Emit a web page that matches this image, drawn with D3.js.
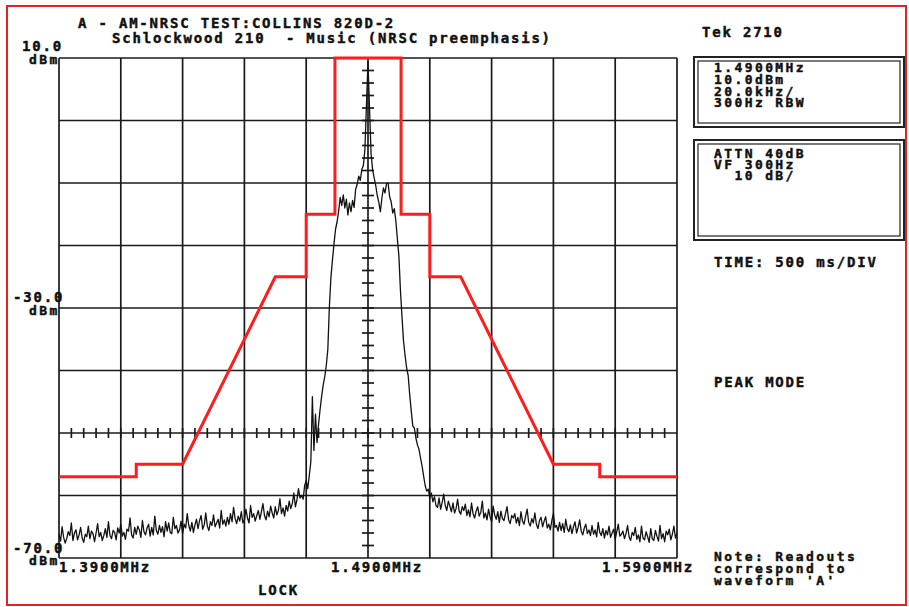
<!DOCTYPE html>
<html>
<head>
<meta charset="utf-8">
<script src="https://cdn.jsdelivr.net/npm/d3@7"></script>
<style>
    body { margin: 0; background: #fff; }
    text {
        font-family: "DejaVu Sans Mono", monospace;
        font-weight: bold;
        font-size: 14px;
        letter-spacing: 1.8px;
        fill: #111;
        stroke: #111;
        stroke-width: 0.45px;
        white-space: pre;
    }
    text.small {
        font-size: 13px;
        letter-spacing: 2.4px;
    }
</style>
</head>
<body>
<div id="chart"></div>
<script>
// sweep: 401 bins, -100 kHz .. +100 kHz around 1.4900 MHz
const sweepStartKHz = -100
const sweepStepKHz = 0.5
const traceDBm = [
    // -100 .. -22 kHz
    -66.2, -67.3, -65.0, -66.7, -67.6, -66.9, -65.8, -66.4, -64.4, -67.2,
    -66.0, -65.5, -67.1, -66.3, -65.1, -66.8, -67.5, -66.2, -66.6, -64.9,
    -66.9, -65.7, -66.1, -67.4, -66.0, -64.5, -66.6, -65.9, -67.2, -66.4,
    -65.3, -66.7, -64.2, -66.4, -66.9, -65.6, -65.9, -67.1, -65.2, -66.0,
    -64.6, -66.5, -65.9, -67.0, -65.4, -65.7, -63.6, -66.3, -66.8, -65.1,
    -66.2, -64.9, -65.5, -66.7, -64.0, -65.8, -66.3, -65.2, -64.6, -66.5,
    -65.1, -66.3, -63.3, -65.6, -66.2, -64.8, -65.9, -65.0, -66.6, -64.2,
    -65.7, -64.4, -65.9, -66.1, -63.5, -65.3, -64.8, -66.0, -65.5, -64.1,
    -66.1, -64.6, -65.2, -62.9, -64.8, -65.7, -64.3, -65.9, -64.7, -63.8,
    -65.3, -64.0, -63.2, -65.4, -64.7, -62.8, -64.9, -65.6, -64.2, -64.8,
    -63.1, -65.0, -64.4, -63.8, -65.2, -62.4, -64.6, -63.9, -64.9, -63.5,
    -64.6, -62.9, -64.2, -61.9, -63.7, -64.5, -63.3, -64.1, -62.6, -64.4,
    -63.9, -62.2, -63.6, -64.4, -61.6, -63.5, -62.9, -64.1, -63.2, -62.4,
    -63.8, -62.6, -61.3, -63.2, -63.9, -62.5, -63.4, -61.7, -62.8, -63.6,
    -61.8, -63.1, -62.4, -60.5, -62.9, -62.0, -63.3, -61.6, -62.5, -60.9,
    -62.1, -61.3, -59.6, -61.8, -60.7, -58.9, -60.4,
    // -21.5 .. +22 kHz
    -60.0, -60.6, -58.4, -57.6, -58.9, -56.8, -54.6, -44.2, -52.8, -47.0,
    -51.5, -48.6, -46.2, -44.1, -42.3, -41.0, -39.2, -36.6, -29.8, -25.1,
    -22.3, -19.7, -17.4, -16.2, -14.5, -12.3, -13.6, -11.9, -14.0, -12.6,
    -15.1, -13.2, -14.6, -12.8, -13.9, -11.0, -10.2, -8.9, -9.6, -7.8,
    -7.2, -4.6, 2.5, 9.4, 1.8, -5.4, -7.9, -9.2, -10.4, -12.0,
    -13.1, -14.6, -12.4, -10.8, -11.6, -10.1, -10.0, -12.2, -13.0, -14.8,
    -14.1, -16.0, -18.9, -21.7, -27.2, -31.4, -35.3, -37.6, -39.6, -40.8,
    -43.9, -46.5, -48.9, -49.2, -50.8, -51.9, -52.6, -54.0, -55.3, -56.9,
    -58.4, -59.3, -59.0, -60.4, -59.6, -61.0, -60.2, -61.6,
    // +22.5 .. +100 kHz
    -61.9, -60.4, -62.2, -61.1, -59.8, -61.6, -62.4, -60.9, -61.7, -62.6,
    -61.2, -62.8, -62.1, -60.6, -62.5, -63.0, -61.8, -62.4, -61.4, -63.2,
    -62.3, -63.4, -61.2, -62.9, -63.6, -62.5, -61.8, -63.3, -62.7, -60.9,
    -63.6, -62.8, -63.9, -62.2, -63.4, -64.2, -61.7, -63.1, -63.8, -62.6,
    -64.3, -62.5, -63.7, -64.0, -62.9, -61.8, -63.9, -64.5, -63.2, -63.6,
    -62.9, -64.4, -63.5, -64.8, -62.6, -64.1, -64.6, -63.3, -62.2, -64.3,
    -64.9, -63.7, -64.4, -62.8, -64.6, -65.3, -64.0, -63.5, -65.0, -64.1,
    -63.4, -65.2, -64.6, -65.5, -64.0, -62.9, -65.1, -64.8, -65.7, -64.3,
    -65.6, -64.5, -65.9, -63.8, -65.3, -65.8, -64.7, -66.1, -65.0, -64.2,
    -66.0, -65.1, -63.9, -65.7, -66.3, -65.2, -64.6, -66.1, -65.5, -66.4,
    -64.8, -66.2, -65.5, -66.6, -64.3, -65.9, -66.4, -65.3, -66.8, -65.6,
    -66.3, -64.9, -66.7, -66.0, -65.4, -67.0, -65.8, -64.6, -66.5, -66.2,
    -65.7, -66.9, -66.1, -64.8, -66.6, -67.2, -65.9, -66.4, -65.1, -67.0,
    -66.3, -67.4, -64.9, -66.8, -67.1, -65.8, -66.6, -67.5, -65.3, -66.9,
    -67.2, -65.6, -66.5, -67.3, -64.8, -66.9, -66.1, -67.4, -65.7, -66.3,
    -65.4, -67.1, -66.2, -64.9, -66.8, -66.0
]

// NRSC emission mask (kHz offset, dBm)
const maskKHz = [-100, -75, -75, -60, -30, -20, -20, -10.7, -10.7, 10.7, 10.7, 20, 20, 30, 60, 75, 75, 100]
const maskDBm = [-57, -57, -55, -55, -25, -25, -15, -15, 10, 10, -15, -15, -25, -25, -55, -55, -57, -57]

const freqTicks = [-100, 0, 100]
const freqLabels = ["1.3900MHz", "1.4900MHz", "1.5900MHz"]
const levelTicks = [10, -30, -70]
const levelLabels = ["10.0", "-30.0", "-70.0"]

const titleLines = ["A - AM-NRSC TEST:COLLINS 820D-2", "Schlockwood 210  - Music (NRSC preemphasis)"]
const box1Lines = ["1.4900MHz", "10.0dBm", "20.0kHz/", "300Hz RBW"]
const box2Lines = ["ATTN 40dB", "VF 300Hz", "  10 dB/"]
const noteLines = ["Note: Readouts", "correspond to", "waveform 'A'"]

const width = 909
const height = 607
const plot = { left: 59, right: 677, top: 58, bottom: 558 }

const svg = d3.select("#chart")
    .append("svg")
    .attr("width", width)
    .attr("height", height)

svg.append("rect")
    .attr("x", 7).attr("y", 6)
    .attr("width", 899).attr("height", 599)
    .attr("fill", "#fff")
    .attr("stroke", "#e02424")
    .attr("stroke-width", 2)

const xScale = d3.scaleLinear().domain([-100, 100]).range([plot.left, plot.right])
const yScale = d3.scaleLinear().domain([-70, 10]).range([plot.bottom, plot.top])

// graticule
const grid = svg.append("g")
    .attr("stroke", "#1a1a1a")
    .attr("stroke-width", 1.7)

grid.selectAll(".vline")
    .data(d3.range(-100, 101, 20))
    .join("line")
    .attr("x1", d => xScale(d)).attr("x2", d => xScale(d))
    .attr("y1", plot.top).attr("y2", plot.bottom)

grid.selectAll(".hline")
    .data(d3.range(-70, 11, 10))
    .join("line")
    .attr("class", "hline")
    .attr("x1", plot.left).attr("x2", plot.right)
    .attr("y1", d => yScale(d)).attr("y2", d => yScale(d))

// minor ticks on the centre lines
grid.selectAll(".xminor")
    .data(d3.range(-96, 100, 4))
    .join("line")
    .attr("class", "xminor")
    .attr("x1", d => xScale(d)).attr("x2", d => xScale(d))
    .attr("y1", yScale(-50) - 5).attr("y2", yScale(-50) + 5)

grid.selectAll(".yminor")
    .data(d3.range(-68, 10, 2))
    .join("line")
    .attr("class", "yminor")
    .attr("x1", xScale(0) - 6).attr("x2", xScale(0) + 6)
    .attr("y1", d => yScale(d)).attr("y2", d => yScale(d))

// mask
const maskLine = d3.line()
    .x((d, i) => xScale(maskKHz[i]))
    .y(d => yScale(d))

svg.append("path")
    .datum(maskDBm)
    .attr("d", maskLine)
    .attr("fill", "none")
    .attr("stroke", "#ff1c1c")
    .attr("stroke-width", 3)
    .attr("stroke-linejoin", "miter")

// trace
const traceLine = d3.line()
    .x((d, i) => xScale(sweepStartKHz + i * sweepStepKHz))
    .y(d => yScale(d))

svg.append("path")
    .datum(traceDBm)
    .attr("d", traceLine)
    .attr("fill", "none")
    .attr("stroke", "#111")
    .attr("stroke-width", 1.3)
    .attr("stroke-linejoin", "round")

// texts
svg.append("text").attr("x", 78).attr("y", 28).text(titleLines[0])
svg.append("text").attr("x", 112).attr("y", 43).text(titleLines[1])
svg.append("text").attr("x", 702).attr("y", 37).text("Tek 2710")

const levelY = [51, 302, 553]
const levelX = [22, 13, 13]
levelLabels.forEach((t, i) => {
    svg.append("text").attr("x", levelX[i]).attr("y", levelY[i]).text(t)
    svg.append("text").attr("class", "small").attr("x", 29).attr("y", levelY[i] + (i == 2 ? 12 : 13)).text("dBm")
})

freqLabels.forEach((t, i) => {
    const xPos = xScale(freqTicks[i])
    svg.append("text")
        .attr("x", i == 0 ? xPos : i == 1 ? xPos - 37 : xPos + 17)
        .attr("text-anchor", i == 2 ? "end" : "start")
        .attr("y", 572)
        .text(t)
})
svg.append("text").attr("x", 258).attr("y", 595).text("LOCK")

const drawBox = (y, h, lines, baseY, step) => {
    svg.append("rect")
        .attr("x", 694).attr("y", y).attr("width", 210).attr("height", h)
        .attr("fill", "none").attr("stroke", "#222").attr("stroke-width", 2)
    svg.append("rect")
        .attr("x", 698).attr("y", y + 4).attr("width", 202).attr("height", h - 8)
        .attr("fill", "none").attr("stroke", "#222").attr("stroke-width", 1.2)
    lines.forEach((t, i) => {
        svg.append("text").attr("class", "small").attr("x", 714).attr("y", baseY + i * step).text(t)
    })
}
drawBox(57, 70, box1Lines, 72, 11.8)
drawBox(140, 100, box2Lines, 158, 11.2)

svg.append("text").attr("x", 714).attr("y", 267).text("TIME: 500 ms/DIV")
svg.append("text").attr("x", 714).attr("y", 387).text("PEAK MODE")
noteLines.forEach((t, i) => {
    svg.append("text").attr("class", "small").attr("x", 714).attr("y", 561 + i * 11.8).text(t)
})
</script>
</body>
</html>
